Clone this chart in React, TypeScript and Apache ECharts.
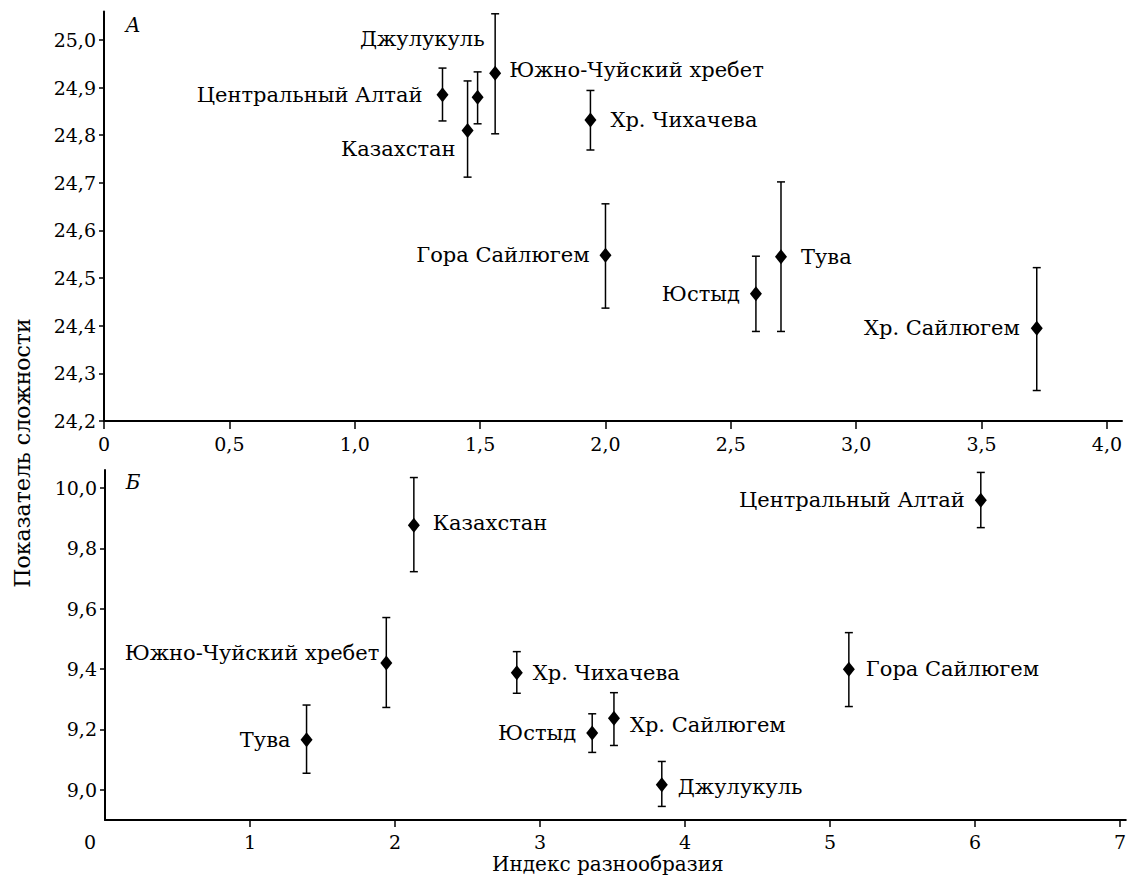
import React, { useEffect, useRef } from "react";
import * as echarts from "echarts";

// ---- Panel A (top) data ----
const TOP_NAMES = [
  "Центральный Алтай",
  "Казахстан",
  "Джулукуль",
  "Южно-Чуйский хребет",
  "Хр. Чихачева",
  "Гора Сайлюгем",
  "Юстыд",
  "Тува",
  "Хр. Сайлюгем",
];
const TOP_X = [1.35, 1.45, 1.49, 1.56, 1.94, 2.0, 2.6, 2.7, 3.72];
const TOP_Y = [24.885, 24.81, 24.88, 24.93, 24.832, 24.548, 24.467, 24.545, 24.395];
const TOP_LOW = [24.83, 24.712, 24.824, 24.803, 24.769, 24.437, 24.388, 24.388, 24.264];
const TOP_HIGH = [24.941, 24.914, 24.933, 25.055, 24.894, 24.656, 24.546, 24.702, 24.522];
const TOP_X_TICKS = [0, 0.5, 1.0, 1.5, 2.0, 2.5, 3.0, 3.5, 4.0];
const TOP_Y_TICKS = [24.2, 24.3, 24.4, 24.5, 24.6, 24.7, 24.8, 24.9, 25.0];

// ---- Panel Б (bottom) data ----
const BOT_NAMES = [
  "Казахстан",
  "Южно-Чуйский хребет",
  "Тува",
  "Центральный Алтай",
  "Хр. Чихачева",
  "Гора Сайлюгем",
  "Хр. Сайлюгем",
  "Юстыд",
  "Джулукуль",
];
const BOT_X = [2.13, 1.94, 1.39, 6.04, 2.84, 5.13, 3.51, 3.36, 3.84];
const BOT_Y = [9.877, 9.42, 9.166, 9.96, 9.388, 9.4, 9.237, 9.188, 9.017];
const BOT_LOW = [9.723, 9.273, 9.055, 9.869, 9.32, 9.276, 9.147, 9.124, 8.945];
const BOT_HIGH = [10.035, 9.571, 9.281, 10.052, 9.458, 9.521, 9.322, 9.252, 9.094];
const BOT_X_TICKS = [1, 2, 3, 4, 5, 6, 7];
const BOT_Y_TICKS = [9.0, 9.2, 9.4, 9.6, 9.8, 10.0];

// ---- label placement (style) ----
const TOP_LABEL_PLACE: any[] = [
  { position: "left", distance: 14, offset: [0, 0] },
  { position: "left", distance: 6, offset: [0, 19] },
  { position: "left", distance: 0, offset: [13, -58] },
  { position: "right", distance: 8, offset: [0, -3] },
  { position: "right", distance: 14, offset: [0, 0] },
  { position: "left", distance: 10, offset: [0, 0] },
  { position: "left", distance: 10, offset: [0, 0] },
  { position: "right", distance: 14, offset: [0, 0] },
  { position: "left", distance: 11, offset: [0, 0] },
];
const BOT_LABEL_PLACE: any[] = [
  { position: "right", distance: 13, offset: [0, -2] },
  { position: "left", distance: 1, offset: [0, -10] },
  { position: "left", distance: 10, offset: [0, 0] },
  { position: "left", distance: 10, offset: [0, 0] },
  { position: "right", distance: 10, offset: [0, 0] },
  { position: "right", distance: 11, offset: [0, 0] },
  { position: "right", distance: 10, offset: [0, 7] },
  { position: "left", distance: 10, offset: [0, 0] },
  { position: "right", distance: 10, offset: [0, 2] },
];

const FONT = "'DejaVu Serif', 'Liberation Serif', serif";
const INK = "#000";

const fmtDec = (v: number) => (v === 0 ? "0" : v.toFixed(1).replace(".", ","));
const fmtInt = (v: number) => String(Math.round(v));

function errorBarRender(params: any, api: any) {
  const x = api.value(0);
  const lo = api.value(1);
  const hi = api.value(2);
  const pHi = api.coord([x, hi]);
  const pLo = api.coord([x, lo]);
  const cap = 4;
  const style = { stroke: INK, lineWidth: 1.5 };
  return {
    type: "group",
    children: [
      { type: "line", shape: { x1: pHi[0], y1: pHi[1], x2: pLo[0], y2: pLo[1] }, style },
      { type: "line", shape: { x1: pHi[0] - cap, y1: pHi[1], x2: pHi[0] + cap, y2: pHi[1] }, style },
      { type: "line", shape: { x1: pLo[0] - cap, y1: pLo[1], x2: pLo[0] + cap, y2: pLo[1] }, style },
    ],
  };
}

function axisCommon(ticks: number[], tickLen: number, margin: number, formatter: (v: number) => string) {
  return {
    type: "value",
    splitLine: { show: false },
    axisLine: { show: true, onZero: false, lineStyle: { color: INK, width: 2 } },
    axisTick: { show: true, length: tickLen, customValues: ticks, lineStyle: { color: INK, width: 1.5 } },
    axisLabel: {
      customValues: ticks,
      formatter,
      color: INK,
      fontFamily: FONT,
      fontSize: 19,
      margin,
    },
  };
}

export default function App() {
  const ref = useRef<HTMLDivElement>(null);

  useEffect(() => {
    document.body.style.margin = "0";
    if (!ref.current) return;
    const chart = echarts.init(ref.current, undefined, { renderer: "svg" });

    const labelBase = {
      show: true,
      formatter: "{b}",
      color: INK,
      fontFamily: FONT,
      fontSize: 21,
    };

    const topScatter = TOP_NAMES.map((n, i) => ({
      name: n,
      value: [TOP_X[i], TOP_Y[i]],
      label: TOP_LABEL_PLACE[i],
    }));
    const botScatter = BOT_NAMES.map((n, i) => ({
      name: n,
      value: [BOT_X[i], BOT_Y[i]],
      label: BOT_LABEL_PLACE[i],
    }));
    const topErr = TOP_NAMES.map((_, i) => [TOP_X[i], TOP_LOW[i], TOP_HIGH[i]]);
    const botErr = BOT_NAMES.map((_, i) => [BOT_X[i], BOT_LOW[i], BOT_HIGH[i]]);

    chart.setOption({
      animation: false,
      backgroundColor: "#fff",
      grid: [
        { left: 104, top: 11.4, width: 1018, height: 409.6, containLabel: false, outerBoundsMode: "none" },
        { left: 105, top: 470, width: 1020.8, height: 350, containLabel: false, outerBoundsMode: "none" },
      ],
      xAxis: [
        { ...axisCommon(TOP_X_TICKS, 8, 13, fmtDec), gridIndex: 0, min: 0, max: 4.06 },
        { ...axisCommon(BOT_X_TICKS, 7, 12, fmtInt), gridIndex: 1, min: 0, max: 7.04 },
      ],
      yAxis: [
        { ...axisCommon(TOP_Y_TICKS, 5, 8, fmtDec), gridIndex: 0, min: 24.2, max: 25.06 },
        { ...axisCommon(BOT_Y_TICKS, 5, 8, fmtDec), gridIndex: 1, min: 8.9, max: 10.06 },
      ],
      series: [
        {
          type: "custom",
          xAxisIndex: 0,
          yAxisIndex: 0,
          renderItem: errorBarRender,
          data: topErr,
          silent: true,
          z: 1,
        },
        {
          type: "custom",
          xAxisIndex: 1,
          yAxisIndex: 1,
          renderItem: errorBarRender,
          data: botErr,
          silent: true,
          z: 1,
        },
        {
          type: "scatter",
          xAxisIndex: 0,
          yAxisIndex: 0,
          symbol: "diamond",
          symbolSize: [12, 15],
          itemStyle: { color: INK, opacity: 1 },
          label: labelBase,
          data: topScatter,
          z: 3,
        },
        {
          type: "scatter",
          xAxisIndex: 1,
          yAxisIndex: 1,
          symbol: "diamond",
          symbolSize: [12, 15],
          itemStyle: { color: INK, opacity: 1 },
          label: labelBase,
          data: botScatter,
          z: 3,
        },
      ],
      graphic: [
        {
          type: "text",
          x: 22,
          y: 453,
          rotation: Math.PI / 2,
          style: {
            text: "Показатель сложности",
            fill: INK,
            font: `22px ${FONT}`,
            align: "center",
            verticalAlign: "middle",
          },
        },
        {
          type: "text",
          x: 492,
          y: 864,
          style: {
            text: "Индекс разнообразия",
            fill: INK,
            font: `20px ${FONT}`,
            align: "left",
            verticalAlign: "middle",
          },
        },
        {
          type: "text",
          x: 90,
          y: 842,
          style: {
            text: "0",
            fill: INK,
            font: `19px ${FONT}`,
            align: "center",
            verticalAlign: "middle",
          },
        },
        {
          type: "text",
          x: 133,
          y: 25,
          style: {
            text: "А",
            fill: INK,
            font: `italic 20px ${FONT}`,
            align: "center",
            verticalAlign: "middle",
          },
        },
        {
          type: "text",
          x: 133,
          y: 482,
          style: {
            text: "Б",
            fill: INK,
            font: `italic 20px ${FONT}`,
            align: "center",
            verticalAlign: "middle",
          },
        },
      ],
    });

    return () => chart.dispose();
  }, []);

  return <div ref={ref} style={{ width: 1127, height: 875 }} />;
}
